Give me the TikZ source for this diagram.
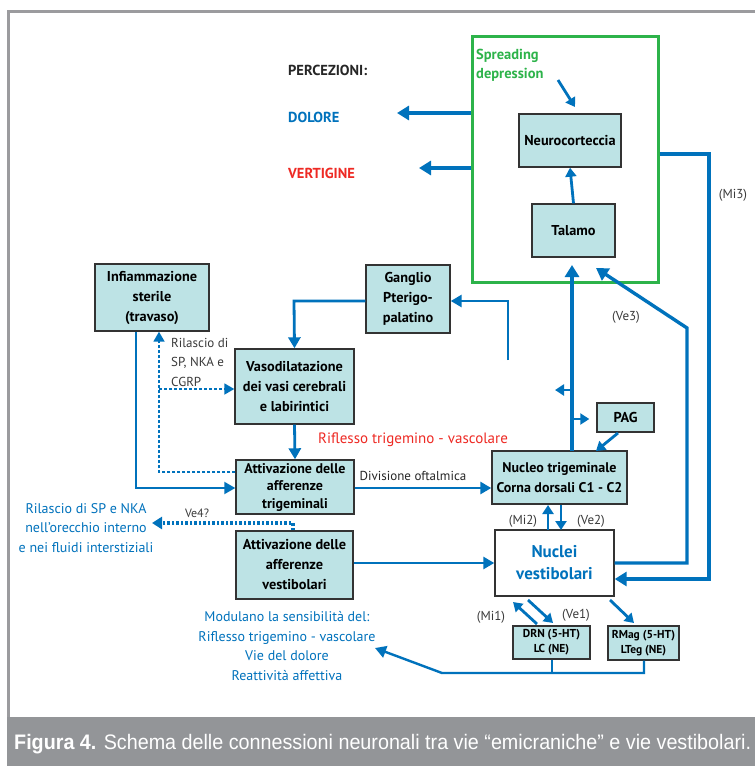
\documentclass[tikz,border=0pt]{standalone}
\usepackage{fontspec}
\setmainfont{PT Sans}
\newfontfamily\capfont{Liberation Sans}[FakeStretch=0.94]
\usetikzlibrary{arrows.meta,calc}
\definecolor{myblue}{HTML}{0072BC}
\definecolor{mygreen}{HTML}{2DB34A}
\definecolor{boxfill}{HTML}{BDE3E5}
\definecolor{framegray}{HTML}{9B9B9E}
\definecolor{capgray}{HTML}{939598}
\definecolor{myred}{HTML}{EE2A24}
\definecolor{labgray}{HTML}{3A3A3A}
\tikzset{
  box/.style={draw=black!80, line width=1.4pt, fill=boxfill, align=center, inner sep=0pt,
    font=\fontsize{14.3}{20}\selectfont\bfseries},
  conn/.style={draw=myblue, line width=3.4pt, -{Triangle[width=14pt,length=12pt]}},
  thin/.style={draw=myblue, line width=2.8pt, -{Triangle[width=12pt,length=11pt]}},
  small/.style={draw=myblue, line width=2.8pt, -{Triangle[width=11pt,length=9pt]}},
  dots/.style={draw=myblue, line width=1.8pt, dash pattern=on 3pt off 2pt},
  lab/.style={font=\fontsize{13}{15}\selectfont, text=labgray, inner sep=0pt},
  btxt/.style={font=\fontsize{14}{19.5}\selectfont, text=myblue, align=center, inner sep=0pt},
  perc/.style={anchor=west, inner sep=0pt, font=\fontsize{14.5}{16}\selectfont\bfseries},
}
\begin{document}
\begin{tikzpicture}[x=1pt,y=-1pt]
\useasboundingbox (0,0) rectangle (755,766);
\fill[white] (0,0) rectangle (755,766);
% frame
\draw[framegray, line width=3pt] (8,717) -- (8,11.5) -- (755,11.5);
\fill[capgray] (7,717) rectangle (755,766);
\node[anchor=base west, inner sep=0pt, text=white, font=\capfont\fontsize{21}{24}\selectfont] (cap) at (14,749)
  {\textbf{Figura 4.} Schema delle connessioni neuronali tra vie “emicraniche” e vie vestibolari.};

% perceptions
\node[perc, text=black!85] (perc) at (288,70) {PERCEZIONI:};
\node[perc, text=myblue] (dol) at (288,117) {DOLORE};
\node[perc, text=myred] (vert) at (288,173) {VERTIGINE};

% green box
\node[draw=mygreen, line width=3pt, minimum width=186pt, minimum height=246pt, inner sep=0pt] (sd) at (565,159) {};
\node[anchor=west, align=left, inner sep=0pt, text=mygreen, font=\fontsize{14.5}{19}\selectfont\bfseries] (sdtxt) at (476,65.5) {Spreading\\depression};

% boxes
\node[box, minimum width=102pt, minimum height=53pt] (neuro) at (570,140.5) {Neurocorteccia};
\node[box, minimum width=83pt, minimum height=53pt] (tal) at (573.5,230.5) {Talamo};
\node[box, minimum width=84pt, minimum height=68pt] (gang) at (408,299) {Ganglio\\Pterigo-\\palatino};
\node[box, minimum width=114pt, minimum height=67pt] (infl) at (152,297.5) {Infiammazione\\sterile\\(travaso)};
\node[box, minimum width=119pt, minimum height=75pt] (vaso) at (294.5,386.5) {Vasodilatazione\\dei vasi cerebrali\\e labirintici};
\node[box, minimum width=118pt, minimum height=54pt, font=\fontsize{14}{17.5}\selectfont\bfseries] (atrig) at (295,487) {Attivazione delle\\afferenze\\trigeminali};
\node[box, minimum width=117pt, minimum height=68pt] (avest) at (294.5,565) {Attivazione delle\\afferenze\\vestibolari};
\node[box, minimum width=135pt, minimum height=53pt, font=\fontsize{14}{20}\selectfont\bfseries] (ntrig) at (559.5,477.5) {Nucleo trigeminale\\Corna dorsali C1 - C2};
\node[box, minimum width=57pt, minimum height=29pt] (pag) at (625.5,417.5) {PAG};
\node[box, fill=white, text=myblue, minimum width=119pt, minimum height=66pt, font=\fontsize{17}{22}\selectfont\bfseries] (nvest) at (554.5,563) {Nuclei\\vestibolari};
\node[box, minimum width=77pt, minimum height=33pt, font=\fontsize{11.5}{15}\selectfont\bfseries] (drn) at (551.5,642.5) {DRN (5-HT)\\LC (NE)};
\node[box, minimum width=71pt, minimum height=34pt, font=\fontsize{11.5}{15}\selectfont\bfseries] (rmag) at (643.5,643) {RMag (5-HT)\\LTeg (NE)};

% labels
\node[lab] (mi3) at (733,195) {(Mi3)};
\node[lab] (ve3) at (626,317) {(Ve3)};
\node[lab] (mi2) at (523,521) {(Mi2)};
\node[lab] (ve2) at (591,521) {(Ve2)};
\node[lab] (mi1) at (491,617) {(Mi1)};
\node[lab] (ve1) at (576,615) {(Ve1)};
\node[lab, font=\fontsize{12}{14}\selectfont] (ve4) at (197,513) {Ve4?};
\node[lab, font=\fontsize{13}{19.5}\selectfont, anchor=west, align=left] (ril) at (171,362) {Rilascio di\\SP, NKA e\\CGRP};
\node[inner sep=0pt, text=myred, font=\fontsize{15}{18}\selectfont] (rifl) at (413,440) {Riflesso trigemino - vascolare};
\node[lab, text=black!85] (divo) at (413,476) {Divisione oftalmica};
\node[btxt] (rilsp) at (86,528) {Rilascio di SP e NKA\\nell’orecchio interno\\e nei fluidi interstiziali};
\node[btxt] (mod) at (287,646) {Modulano la sensibilità del:\\Riflesso trigemino - vascolare\\Vie del dolore\\Reattività affettiva};

% coordinates
\coordinate (sdstart) at (558,80);
\coordinate (sdend) at (575,107);
\coordinate (dolend) at (397,113);
\coordinate (verend) at (419,168);
\coordinate (ve3tip) at (596,268);
\coordinate (upleft) at (555,390);
\coordinate (gangfree) at (508,360);
\coordinate (ve4end) at (152,523);
\coordinate (modtip) at (375,648);

% connectors
\draw[small] (sdstart) -- (sdend);
\draw[small] (tal.north) -- (neuro.south);
\draw[conn] (sd.west |- dolend) -- (dolend);
\draw[conn] (sd.west |- verend) -- (verend);
% Mi3
\draw[conn] (sd.east |- 0,154) -- (709,154) -- (709,579) -- (nvest.east |- 0,579);
% Ve3
\draw[conn] (nvest.east |- 0,563) -- (687,563) -- (687,328) -- (ve3tip);
% trigeminal up
\draw[conn] (572,451) -- (572,265);
\draw[small] (572,390) -- (upleft);
\draw[small, shorten >=7pt] (574,419) -- (pag.west |- 0,419);
\draw[small] (618,433) -- (596,451);
% ganglio
\draw[thin] (gangfree) -- (508,301) -- (gang.east |- 0,301);
\draw[thin] (gang.west |- 0,301) -- (294,301) -- (vaso.north);
% infiammazione -> att trig
\draw[myblue, line width=2pt, -{Triangle[width=12pt,length=11pt]}] (infl.south -| 136,0) -- (136,488) -- (atrig.west |- 0,488);
% dotted release
\draw[dots, -{Triangle[width=11pt,length=10pt]}] (atrig.west |- 0,472) -- (159,472) -- (infl.south -| 159,0);
\draw[dots, -{Triangle[width=11pt,length=10pt]}] (159,389) -- (vaso.west |- 0,389);
% vaso -> att trig
\draw[thin] (vaso.south) -- (atrig.north);
% divisione oftalmica
\draw[thin] (atrig.east |- 0,488) -- (ntrig.west |- 0,488);
% Ve4
\draw[myblue, line width=3.2pt, dash pattern=on 2.5pt off 2pt, -{Triangle[width=12pt,length=10pt]}] (avest.north -| 293,0) -- (293,523) -- (ve4end);
% att vest -> nuclei
\draw[thin] (avest.east |- 0,563) -- (nvest.west |- 0,563);
% Mi2 / Ve2
\draw[small] (548,530) -- (548,505);
\draw[small] (561,505) -- (561,530);
% Mi1 Ve1 RMag
\draw[small] (537,624) -- (513,602);
\draw[small] (528,600) -- (553,623);
\draw[small] (610,600) -- (634,623);
% bottom modulation
\draw[myblue, line width=2.4pt] (drn.south -| 552,0) -- (552,673);
\draw[myblue, line width=2.4pt, -{Triangle[width=12pt,length=11pt]}] (rmag.south -| 644,0) -- (644,673) -- (442,673) -- (modtip);
\end{tikzpicture}
\end{document}
